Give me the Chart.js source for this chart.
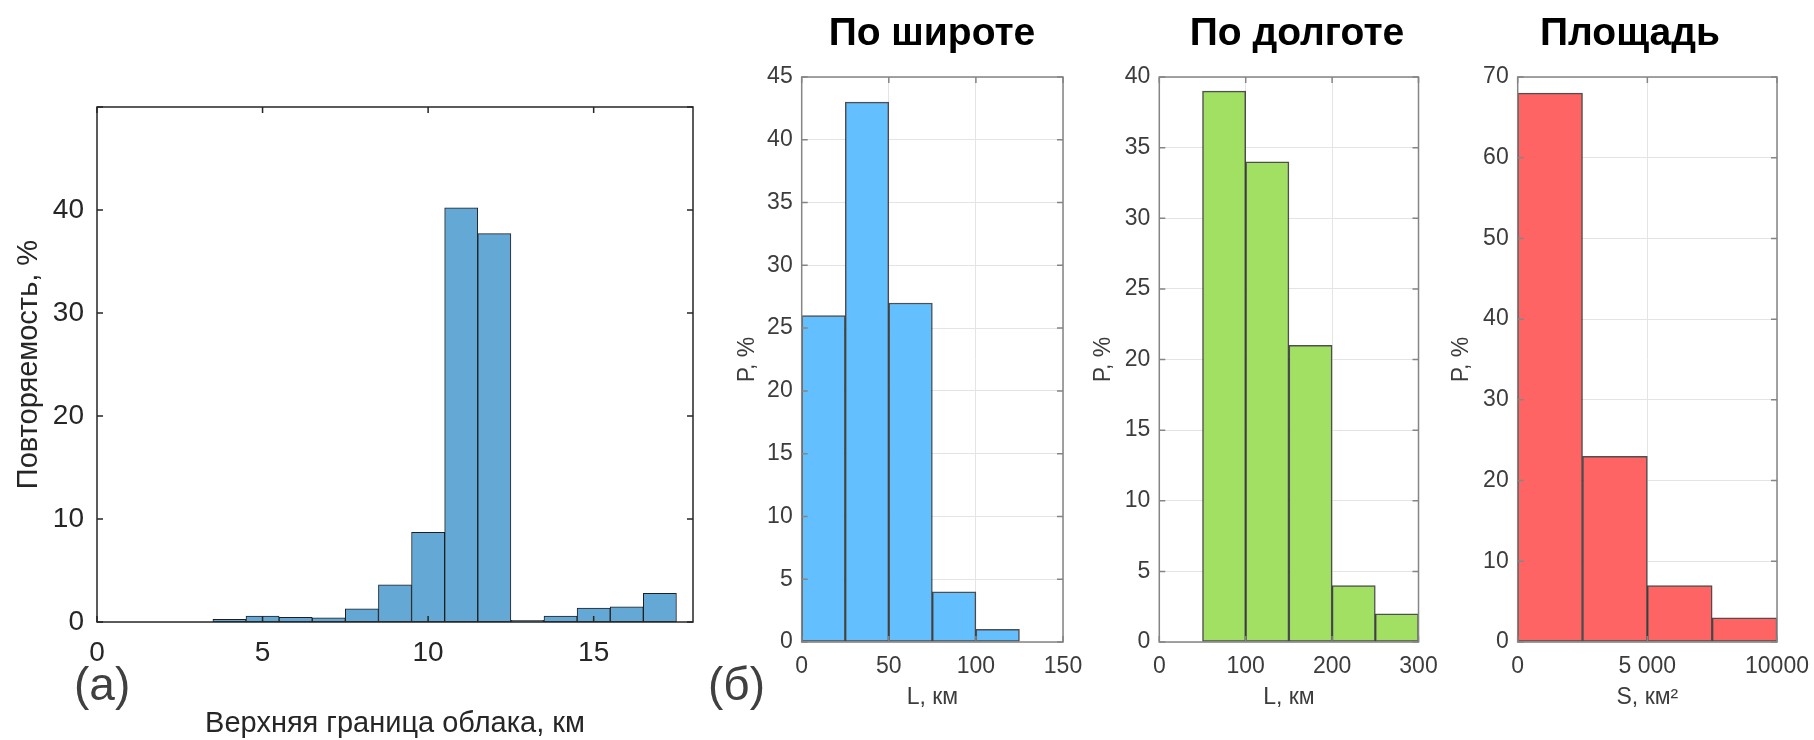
<!DOCTYPE html>
<html>
<head>
<meta charset="utf-8">
<script src="https://cdn.jsdelivr.net/npm/chart.js@4.4.1/dist/chart.umd.min.js"></script>
<style>
  html, body { margin: 0; padding: 0; background: #fff; width: 1814px; height: 740px; overflow: hidden; }
  .panel { position: absolute; top: 0; height: 740px; }
  .title { position: absolute; width: 300px; text-align: center; font: bold 39px "Liberation Sans", Arial, sans-serif; line-height: 1; color: #000; }
  .tag { position: absolute; font: 46px "Liberation Sans", Arial, sans-serif; line-height: 1; color: #404040; }
</style>
</head>
<body>
<div class="panel" style="left:0;width:713px"><canvas id="chartA"></canvas></div>
<div class="panel" style="left:720px;width:423px"><canvas id="chartLat"></canvas></div>
<div class="panel" style="left:1080px;width:434px"><canvas id="chartLon"></canvas></div>
<div class="panel" style="left:1440px;width:380px"><canvas id="chartArea"></canvas></div>

<div class="title" style="left:782px;top:12px">По широте</div>
<div class="title" style="left:1147px;top:12px">По долготе</div>
<div class="title" style="left:1480px;top:12px">Площадь</div>
<div class="tag" style="left:74px;top:661px">(a)</div>
<div class="tag" style="left:708px;top:661px">(б)</div>

<script>
// (a) cloud top height histogram, bin centres in km, frequency in %
const heightBins = [1, 2, 3, 4, 5, 6, 7, 8, 9, 10, 11, 12, 13, 14, 15, 16, 17];
const heightFreq = [0, 0, 0, 0.25, 0.57, 0.45, 0.4, 1.27, 3.6, 8.7, 40.2, 37.7, 0.16, 0.57, 1.35, 1.47, 2.78];

// (б) size distributions
const latBins = [12.5, 37.5, 62.5, 87.5, 112.5];
const latFreq = [26, 43, 27, 4, 1];
const lonBins = [75, 125, 175, 225, 275];
const lonFreq = [39, 34, 21, 4, 2];
const areaBins = [1250, 3750, 6250, 8750];
const areaFreq = [68, 23, 7, 3];
const areaTickLabels = ['0', '5 000', '10000'];

const FONT = '"Liberation Sans", Arial, sans-serif';

// box + inward tick marks on all four sides, like a matlab axes
const framePlugin = {
  id: 'frame',
  afterDraw(chart, args, opts) {
    const { ctx, chartArea: a, scales: { x, y } } = chart;
    ctx.save();
    ctx.strokeStyle = opts.color;
    ctx.lineWidth = opts.width;
    ctx.beginPath();
    x.ticks.forEach(t => {
      const px = x.getPixelForValue(t.value);
      ctx.moveTo(px, a.bottom); ctx.lineTo(px, a.bottom - opts.tick);
      ctx.moveTo(px, a.top); ctx.lineTo(px, a.top + opts.tick);
    });
    y.ticks.forEach(t => {
      const py = y.getPixelForValue(t.value);
      ctx.moveTo(a.left, py); ctx.lineTo(a.left + opts.tick, py);
      ctx.moveTo(a.right, py); ctx.lineTo(a.right - opts.tick, py);
    });
    ctx.stroke();
    ctx.strokeRect(a.left, a.top, a.right - a.left, a.bottom - a.top);
    ctx.restore();
  }
};

function histChart(id, o) {
  return new Chart(document.getElementById(id), {
    type: 'bar',
    data: {
      datasets: [{
        data: o.bins.map((b, i) => ({ x: b, y: o.freq[i] })),
        backgroundColor: o.fill,
        borderColor: o.edge,
        borderWidth: o.edgeWidth,
        borderSkipped: false,
        barPercentage: 1,
        categoryPercentage: 1
      }]
    },
    options: {
      responsive: true,
      maintainAspectRatio: false,
      animation: false,
      events: [],
      layout: { padding: { top: o.top, right: o.right, left: 0, bottom: 0 } },
      plugins: {
        legend: { display: false },
        tooltip: { enabled: false },
        frame: o.frame
      },
      scales: {
        x: {
          type: 'linear',
          min: o.xMin, max: o.xMax,
          offset: false,
          grid: { display: o.grid, color: '#e4e4e4', lineWidth: 1, drawTicks: false, offset: false },
          border: { display: false },
          ticks: {
            stepSize: o.xStep, includeBounds: false, maxRotation: 0, autoSkip: false,
            padding: o.xTickPad, color: o.textColor,
            font: { family: FONT, size: o.tickSize },
            callback: o.xLabel || (v => String(v))
          },
          title: {
            display: true, text: o.xTitle, color: o.textColor,
            font: { family: FONT, size: o.xTitleSize, lineHeight: o.xTitleLH },
            padding: { top: 0, bottom: o.xTitlePad }
          },
          afterFit(s) { s.height = o.xHeight; s.paddingLeft = 0; s.paddingRight = 0; }
        },
        y: {
          min: 0, max: o.yMax,
          grid: { display: o.grid, color: '#e4e4e4', lineWidth: 1, drawTicks: false },
          border: { display: false },
          ticks: {
            stepSize: o.yStep, padding: o.yTickPad, color: o.textColor,
            font: { family: FONT, size: o.tickSize },
            callback: o.yLabel || (v => String(v))
          },
          title: {
            display: true, text: o.yTitle, color: o.textColor,
            font: { family: FONT, size: o.yTitleSize },
            padding: { top: o.yTitlePad, bottom: 0 }
          },
          afterFit(s) { s.width = o.yWidth; s.paddingTop = 0; s.paddingBottom = 0; }
        }
      }
    },
    plugins: [framePlugin]
  });
}

histChart('chartA', {
  bins: heightBins, freq: heightFreq,
  fill: '#64a9d6', edge: '#1f1f1f', edgeWidth: 1,
  xMin: 0, xMax: 18, xStep: 5, yMax: 50, yStep: 10,
  yLabel: v => (v === 50 ? '' : String(v)),
  grid: false, textColor: '#262626', tickSize: 28,
  xTitle: 'Верхняя граница облака, км', xTitleSize: 29, xTitleLH: 1, xTitlePad: 1.5,
  yTitle: 'Повторяемость, %', yTitleSize: 29, yTitlePad: 12,
  xTickPad: 14, yTickPad: 13,
  top: 107, right: 20, yWidth: 97, xHeight: 118,
  frame: { color: '#262626', width: 1.5, tick: 6 }
});

const smallPanel = {
  edge: 'rgba(35,35,35,0.8)', edgeWidth: 1.5,
  grid: true, textColor: '#3c3c3c', tickSize: 23,
  xTitleSize: 23, xTitleLH: 1.2, xTitlePad: 29, yTitleSize: 23,
  xTickPad: 11, yTickPad: 9, top: 77, xHeight: 98,
  frame: { color: '#858585', width: 1.5, tick: 6 }
};

histChart('chartLat', Object.assign({}, smallPanel, {
  bins: latBins, freq: latFreq, fill: '#63bffd',
  xMin: 0, xMax: 150, xStep: 50, yMax: 45, yStep: 5,
  xTitle: 'L, км', yTitle: 'P, %', yTitlePad: 14,
  right: 80, yWidth: 81.7
}));

histChart('chartLon', Object.assign({}, smallPanel, {
  bins: lonBins, freq: lonFreq, fill: '#a2e064',
  xMin: 0, xMax: 300, xStep: 100, yMax: 40, yStep: 5,
  xTitle: 'L, км', yTitle: 'P, %', yTitlePad: 10,
  right: 95.5, yWidth: 79.3
}));

histChart('chartArea', Object.assign({}, smallPanel, {
  bins: areaBins, freq: areaFreq, fill: '#ff6464',
  xMin: 0, xMax: 10000, xStep: 5000, yMax: 70, yStep: 10,
  xLabel: (v, i) => areaTickLabels[i],
  xTitle: 'S, км²', yTitle: 'P, %', yTitlePad: 8,
  right: 43, yWidth: 77.7
}));
</script>
</body>
</html>
